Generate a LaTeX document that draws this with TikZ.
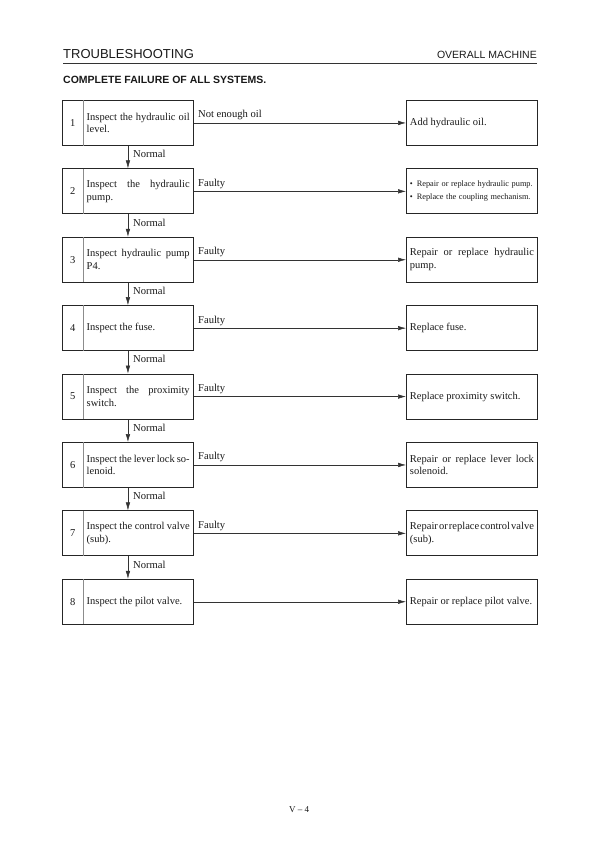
\documentclass[tikz,border=0pt]{standalone}
\usepackage{fontspec}
\setmainfont{Liberation Serif}
\setsansfont{Liberation Sans}
\usetikzlibrary{arrows.meta, positioning}

\newcommand{\boxfont}{\fontsize{10.5}{12.7}\selectfont
  \spaceskip=0.25em plus 0.4em minus 0.15em\relax}

\begin{document}
\begin{tikzpicture}[
    x=1pt, y=-1pt,
    every node/.style={text=black!90},
    % Box styles
    check box/.style={
        draw=black!85, line width=0.9pt, minimum width=131pt,
        minimum height=45pt, inner sep=0pt, anchor=north west,
      },
    num cell/.style={
        minimum width=21pt, minimum height=45pt, inner sep=0pt,
        anchor=west, font=\boxfont,
      },
    check text/.style={
        text width=103pt, align=justify, inner xsep=3.5pt, inner ysep=2pt,
        anchor=west, font=\boxfont,
      },
    remedy box/.style={
        draw=black!85, line width=0.9pt, text width=124pt, align=justify,
        inner xsep=3.5pt, inner ysep=2pt, minimum height=45pt,
        anchor=north west, font=\boxfont,
      },
    % Arrow style
    flow/.style={
        draw=black!80, line width=0.5pt, -{Latex[length=8pt, width=4.5pt]},
      },
    flow label/.style={font=\fontsize{10.6}{12}\selectfont, inner sep=0pt},
  ]
  \useasboundingbox (0,0) rectangle (600,849);

  % --- Page header ---
  \node[font=\sffamily\fontsize{13}{15}\selectfont, anchor=base west, inner sep=0pt]
    (head) at (63,58) {TROUBLESHOOTING};
  \node[font=\sffamily\fontsize{10.5}{12}\selectfont, anchor=base east, inner sep=0pt]
    (section) at (537,58) {OVERALL MACHINE};
  \draw[black!80, line width=0.8pt] (63,63) -- (537,63);
  \node[font=\sffamily\bfseries\fontsize{10.5}{12}\selectfont, anchor=base west, inner sep=0pt]
    (title) at (63,83) {COMPLETE FAILURE OF ALL SYSTEMS.};

  % --- Check boxes (left) and remedies (right) ---
  \foreach \i/\chk/\fix in {
      1/{Inspect the hydraulic oil\linebreak level.}/{Add hydraulic oil.},
      2/{Inspect the hydraulic\linebreak pump.}/{\fontsize{8.3}{12.3}\selectfont\raggedright
        \mbox{\textbullet\hspace{4pt}Repair or replace hydraulic pump.}\\
        \mbox{\textbullet\hspace{4pt}Replace the coupling mechanism.}},
      3/{Inspect hydraulic pump\linebreak P4.}/{Repair or replace hydraulic\linebreak pump.},
      4/{Inspect the fuse.}/{Replace fuse.},
      5/{Inspect the proximity\linebreak switch.}/{Replace proximity switch.},
      6/{Inspect the lever lock so-\linebreak lenoid.}/{Repair or replace lever lock\linebreak solenoid.},
      7/{Inspect the control valve\linebreak (sub).}/{Repair or replace control valve\linebreak (sub).},
      8/{Inspect the pilot valve.}/{Repair or replace pilot valve.}} {
      \node[check box] (box\i) at (62, {100+68.4*(\i-1)}) {};
      \node[num cell] (num\i) at (box\i.west) {\i};
      \node[check text] (txt\i) at ([xshift=21pt]box\i.west) {\chk};
      \draw[black!45, line width=0.6pt] (num\i.north east) -- (num\i.south east);
      \node[remedy box] (fix\i) at (406, {100+68.4*(\i-1)}) {\fix};
    }

  % --- Faulty branches ---
  \foreach \i/\lab in {1/Not enough oil, 2/Faulty, 3/Faulty, 4/Faulty,
      5/Faulty, 6/Faulty, 7/Faulty} {
      \draw[flow] (box\i.east) -- node[flow label, pos=0, anchor=base west,
          xshift=4pt, yshift=5pt] {\lab} (fix\i.west);
    }
  \draw[flow] (box8.east) -- (fix8.west);

  % --- Normal branches ---
  \foreach \i [evaluate=\i as \j using int(\i+1)] in {1,...,7} {
      \draw[flow] (box\i.south) -- node[flow label, pos=0.36, anchor=west,
          xshift=5pt] {Normal} (box\j.north);
    }

  % --- Page number ---
  \node[font=\fontsize{9}{11}\selectfont, anchor=base, inner sep=0pt]
    (page) at (299,812) {V -- 4};
\end{tikzpicture}
\end{document}
